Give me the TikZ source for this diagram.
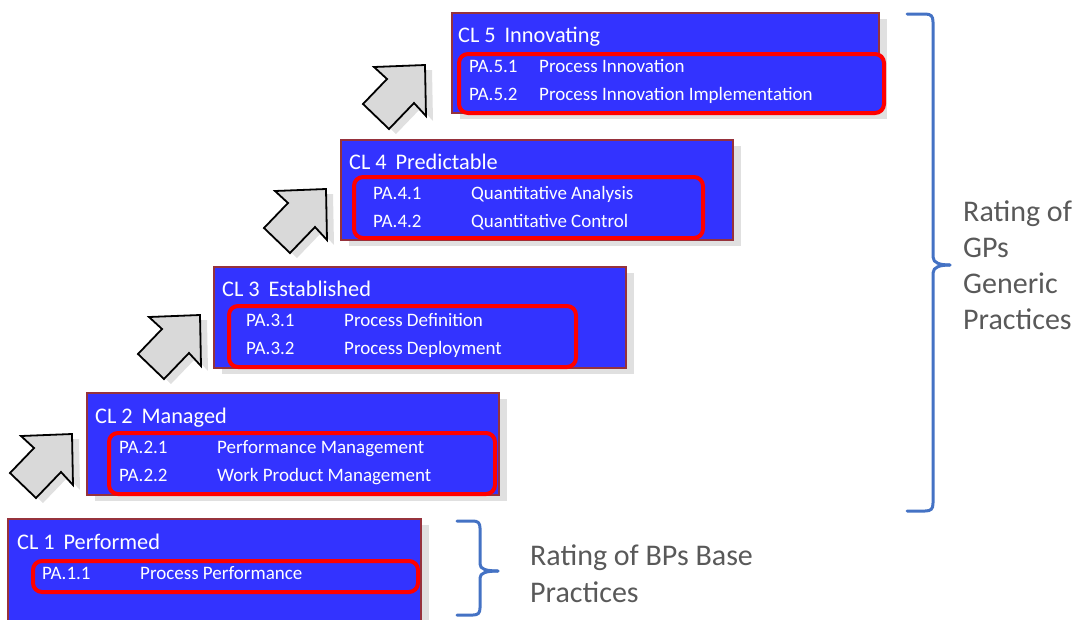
\documentclass[tikz,border=0pt]{standalone}
\usepackage{fontspec}
\setmainfont{Carlito}
\usetikzlibrary{shadows}
\definecolor{boxblue}{RGB}{51,51,255}
\definecolor{boxborder}{RGB}{150,50,60}
\definecolor{pared}{RGB}{255,0,0}
\definecolor{bracecol}{RGB}{68,114,196}
\definecolor{sidetext}{RGB}{89,89,89}
\definecolor{arrowfill}{RGB}{217,217,217}
\definecolor{shadowgray}{RGB}{224,224,224}
\tikzset{
  clbox/.style={draw=boxborder, line width=1.3pt, fill=boxblue, anchor=north west,
    inner sep=0pt, outer sep=0pt,
    drop shadow={shadow xshift=8pt, shadow yshift=-6pt, fill=shadowgray, opacity=1}},
  pabox/.style={draw=pared, line width=4pt, rounded corners=9pt, anchor=north west,
    inner sep=0pt, outer sep=0pt},
  cltitle/.style={anchor=base west, inner sep=0pt, text=white, font=\fontsize{22.3}{26}\selectfont},
  paitem/.style={anchor=base west, inner sep=0pt, text=white, font=\fontsize{19}{23}\selectfont},
  sidelabel/.style={anchor=base west, inner sep=0pt, text=sidetext, font=\fontsize{30}{36}\selectfont},
  brace/.style={draw=bracecol, line width=3pt, line cap=round, line join=round},
  uparrow/.pic={
    \fill[shadowgray] (7,5) -- (-44,7) -- (-31,19) -- (-55,44) -- (-29,69) -- (-4,43) -- (8,56) -- cycle;
    \draw[fill=arrowfill, line width=1.8pt, line join=miter]
      (0,0) -- (-51,2) -- (-38,14) -- (-62,39) -- (-36,64) -- (-11,38) -- (1,51) -- cycle;
  }
}
\begin{document}
\begin{tikzpicture}[x=1pt,y=-1pt]
\clip (0,0) rectangle (1078,619);
\useasboundingbox (0,0) rectangle (1078,619);

% arrows
\pic at (72,434) {uparrow};
\pic at (200,315) {uparrow};
\pic at (326,189) {uparrow};
\pic at (425,65) {uparrow};

% CL 5
\node[clbox, minimum width=427pt, minimum height=100pt] (b5) at (452,13) {};
\node[pabox, fill=boxblue, minimum width=425pt, minimum height=59pt] (r5) at (459,54) {};
\node[cltitle] (t5) at (458,42) {CL 5\,\ Innovating};
\node[paitem] (p51) at (469,72) {PA.5.1};
\node[paitem] (n51) at (539,72) {Process Innovation};
\node[paitem] (p52) at (469,100) {PA.5.2};
\node[paitem] (n52) at (539,100) {Process Innovation Implementation};

% CL 4
\node[clbox, minimum width=392pt, minimum height=100pt] (b4) at (341,140) {};
\node[pabox, fill=boxblue, minimum width=349pt, minimum height=61pt] (r4) at (354,177) {};
\node[cltitle] (t4) at (349,169) {CL 4\,\ Predictable};
\node[paitem] (p41) at (373,199) {PA.4.1};
\node[paitem] (n41) at (471,199) {Quantitative Analysis};
\node[paitem] (p42) at (373,227) {PA.4.2};
\node[paitem] (n42) at (471,227) {Quantitative Control};

% CL 3
\node[clbox, minimum width=412pt, minimum height=101pt] (b3) at (214,267) {};
\node[pabox, fill=boxblue, minimum width=347pt, minimum height=61pt] (r3) at (229,306) {};
\node[cltitle] (t3) at (222,296) {CL 3\,\ Established};
\node[paitem] (p31) at (246,326) {PA.3.1};
\node[paitem] (n31) at (344,326) {Process Definition};
\node[paitem] (p32) at (246,354) {PA.3.2};
\node[paitem] (n32) at (344,354) {Process Deployment};

% CL 2
\node[clbox, minimum width=412pt, minimum height=102pt] (b2) at (87,393) {};
\node[pabox, fill=boxblue, minimum width=386pt, minimum height=61pt] (r2) at (109,433) {};
\node[cltitle] (t2) at (95,423) {CL 2\,\ Managed};
\node[paitem] (p21) at (119,453) {PA.2.1};
\node[paitem] (n21) at (217,453) {Performance Management};
\node[paitem] (p22) at (119,481) {PA.2.2};
\node[paitem] (n22) at (217,481) {Work Product Management};

% CL 1
\node[clbox, minimum width=413pt, minimum height=130pt] (b1) at (8,519) {};
\node[pabox, fill=boxblue, minimum width=385pt, minimum height=31pt] (r1) at (33,561) {};
\node[cltitle] (t1) at (17,549) {CL 1\,\ Performed};
\node[paitem] (p11) at (42,579) {PA.1.1};
\node[paitem] (n11) at (140,579) {Process Performance};

% braces
\draw[brace] (907,14) -- (925,14) .. controls (931,14) and (933,16) .. (933,22)
  -- (933,257) .. controls (933,263) and (940,265) .. (950,265);
\draw[brace] (950,265) .. controls (940,265) and (933,267) .. (933,273)
  -- (933,503) .. controls (933,509) and (931,511) .. (925,511) -- (907,511);
\draw[brace] (457,521) -- (473,521) .. controls (478,521) and (480,523) .. (480,528)
  -- (480,564) .. controls (480,569) and (486,571) .. (498,571);
\draw[brace] (498,571) .. controls (486,571) and (480,573) .. (480,578)
  -- (480,608) .. controls (480,613) and (478,615) .. (473,615) -- (457,615);

% side labels
\node[sidelabel] (g1) at (963,221) {Rating of};
\node[sidelabel] (g2) at (963,257) {GPs};
\node[sidelabel] (g3) at (963,293) {Generic};
\node[sidelabel] (g4) at (963,329) {Practices};
\node[sidelabel] (s1) at (530,565) {Rating of BPs Base};
\node[sidelabel] (s2) at (530,602) {Practices};
\end{tikzpicture}
\end{document}
